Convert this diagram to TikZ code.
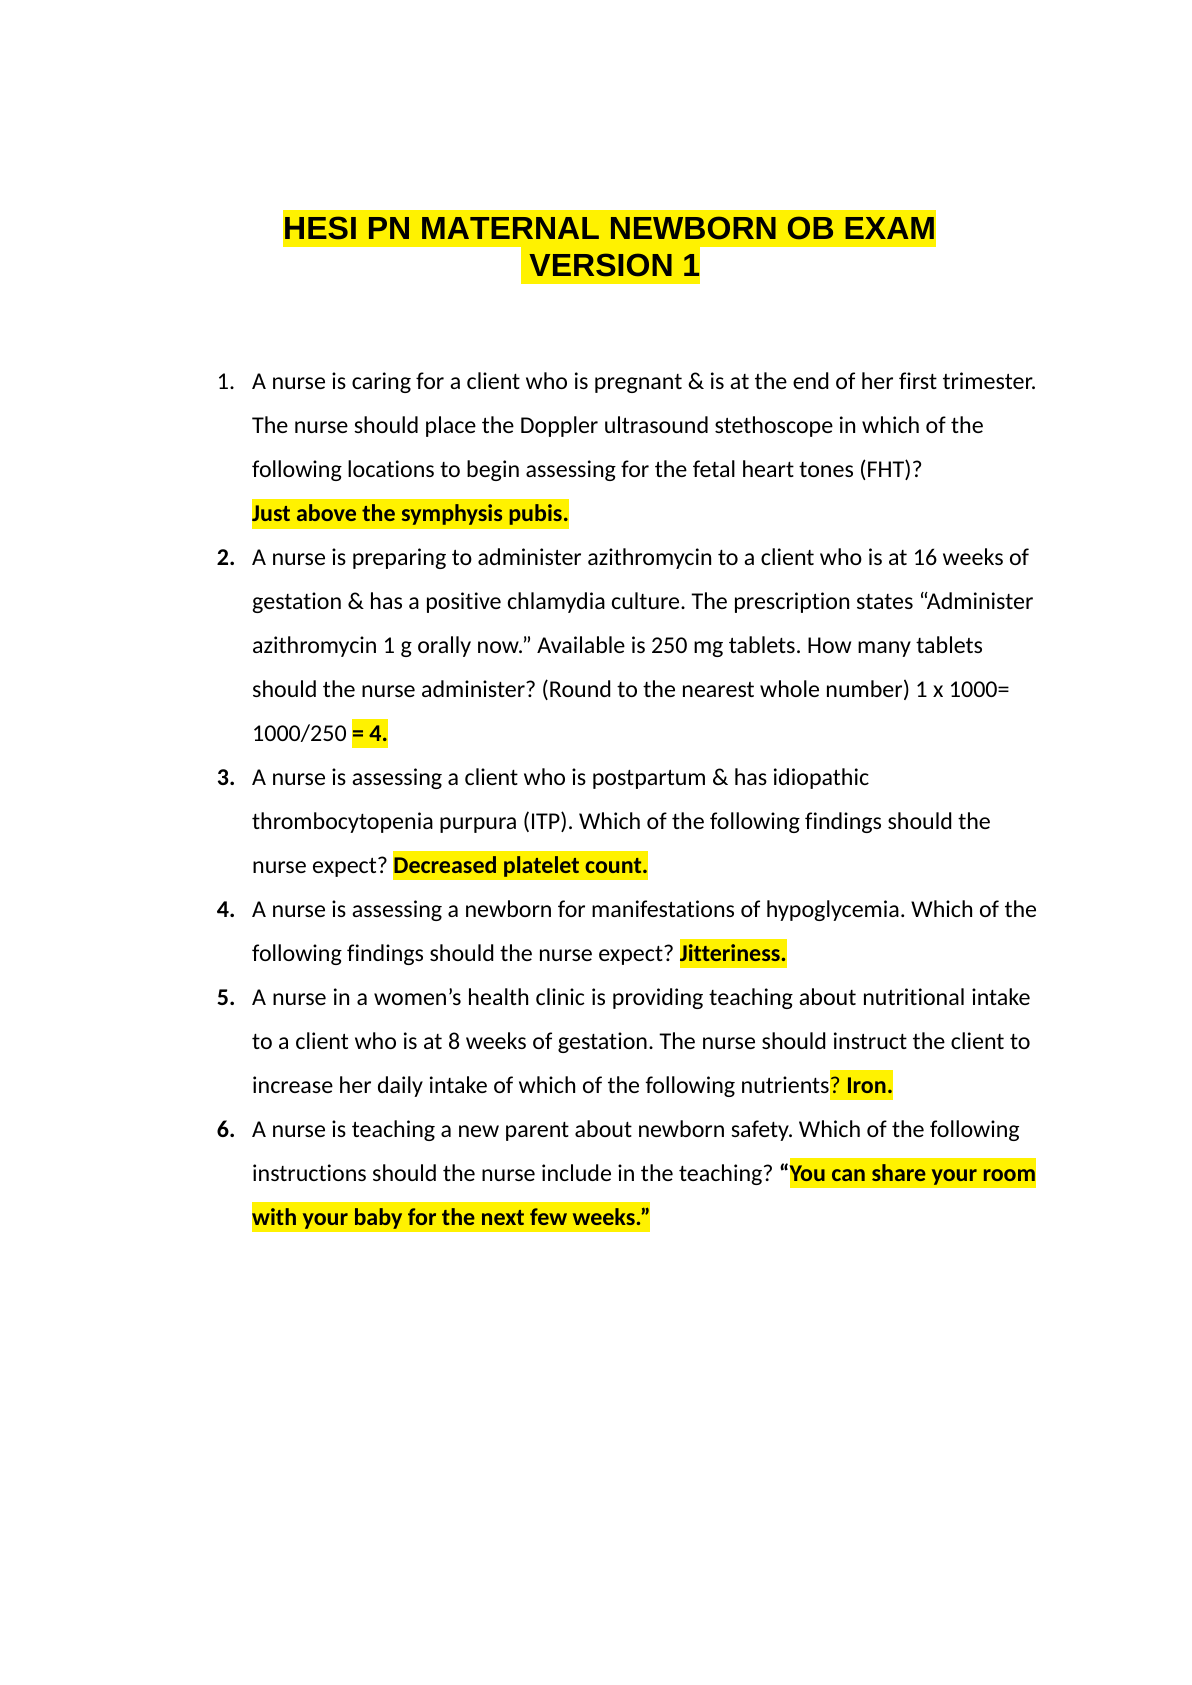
\documentclass[tikz,border=0pt]{standalone}
\usepackage{fontspec}
\setmainfont{Carlito}[Ligatures={TeX,NoCommon}]
\newfontfamily\titlefont{Liberation Sans}[Kerning=Off]
\usepackage{xcolor}
\frenchspacing
\newcommand\hlt[1]{{\setlength{\fboxsep}{0pt}\colorbox{yellow}{\rule[-3.4pt]{0pt}{14.9pt}#1}}}
\newcommand\hltitle[1]{{\setlength{\fboxsep}{0pt}\colorbox{yellow}{\rule[-3.7pt]{0pt}{18.55pt}#1}}}
\begin{document}
\frenchspacing
\begin{tikzpicture}[x=1pt,y=1pt,
  txt/.style={anchor=base west,inner sep=0pt,outer sep=0pt,font=\fontsize{12pt}{14pt}\selectfont\frenchspacing},
  ttl/.style={anchor=base west,inner sep=0pt,outer sep=0pt,font=\titlefont\bfseries\fontsize{16pt}{18pt}\selectfont\frenchspacing},
  num/.style={txt},
  numb/.style={txt,font=\bfseries\fontsize{12pt}{14pt}\selectfont\frenchspacing}]
\useasboundingbox[fill=white] (0,0) rectangle (595.28,-841.89);
% title
\node[ttl] (t1) at (141.5,-119.9) {\hltitle{HESI PN MATERNAL NEWBORN OB EXAM}};
\node[ttl] (t2) at (260.1,-138.2) {\hltitle{\ VERSION 1}};
% numbers
\def\LX{126}\def\NX{108.4}
\node[num]  (n1) at (\NX,-194.8) {1.};
\node[numb] (n2) at (\NX,-194.8-4*21.97) {2.};
\node[numb] (n3) at (\NX,-194.8-9*21.97) {3.};
\node[numb] (n4) at (\NX,-194.8-12*21.97) {4.};
\node[numb] (n5) at (\NX,-194.8-14*21.97) {5.};
\node[numb] (n6) at (\NX,-194.8-17*21.97) {6.};
% item 1
\node[txt] (l0) at (\LX,-194.8) {A nurse is caring for a client who is pregnant \& is at the end of her first trimester.};
\node[txt] (l1) at (\LX,-194.8-1*21.97) {The nurse should place the Doppler ultrasound stethoscope in which of the};
\node[txt] (l2) at (\LX,-194.8-2*21.97) {following locations to begin assessing for the fetal heart tones (FHT)?};
\node[txt] (l3) at (\LX,-194.8-3*21.97) {\hlt{\bfseries Just above the symphysis pubis.}};
% item 2
\node[txt] (l4) at (\LX,-194.8-4*21.97) {A nurse is preparing to administer azithromycin to a client who is at 16 weeks of};
\node[txt] (l5) at (\LX,-194.8-5*21.97) {gestation \& has a positive chlamydia culture. The prescription states “Administer};
\node[txt] (l6) at (\LX,-194.8-6*21.97) {azithromycin 1 g orally now.” Available is 250 mg tablets. How many tablets};
\node[txt] (l7) at (\LX,-194.8-7*21.97) {should the nurse administer? (Round to the nearest whole number) 1 x 1000=};
\node[txt] (l8) at (\LX,-194.8-8*21.97) {1000/250 \hlt{\bfseries = 4.}};
% item 3
\node[txt] (l9) at (\LX,-194.8-9*21.97) {A nurse is assessing a client who is postpartum \& has idiopathic};
\node[txt] (l10) at (\LX,-194.8-10*21.97) {thrombocytopenia purpura (ITP). Which of the following findings should the};
\node[txt] (l11) at (\LX,-194.8-11*21.97) {nurse expect? \hlt{\bfseries Decreased platelet count.}};
% item 4
\node[txt] (l12) at (\LX,-194.8-12*21.97) {A nurse is assessing a newborn for manifestations of hypoglycemia. Which of the};
\node[txt] (l13) at (\LX,-194.8-13*21.97) {following findings should the nurse expect? \hlt{\bfseries Jitteriness.}};
% item 5
\node[txt] (l14) at (\LX,-194.8-14*21.97) {\makebox[389pt][s]{A nurse in a women’s health clinic is providing teaching about nutritional intake}};
\node[txt] (l15) at (\LX,-194.8-15*21.97) {\makebox[389pt][s]{to a client who is at 8 weeks of gestation. The nurse should instruct the client to}};
\node[txt] (l16) at (\LX,-194.8-16*21.97) {increase her daily intake of which of the following nutrients\hlt{? \bfseries Iron.}};
% item 6
\node[txt] (l17) at (\LX,-194.8-17*21.97) {A nurse is teaching a new parent about newborn safety. Which of the following};
\node[txt] (l18) at (\LX,-194.8-18*21.97) {instructions should the nurse include in the teaching? {\bfseries “}\hlt{\bfseries You can share your room}};
\node[txt] (l19) at (\LX,-194.8-19*21.97) {\hlt{\bfseries with your baby for the next few weeks.”}};
\end{tikzpicture}
\end{document}
